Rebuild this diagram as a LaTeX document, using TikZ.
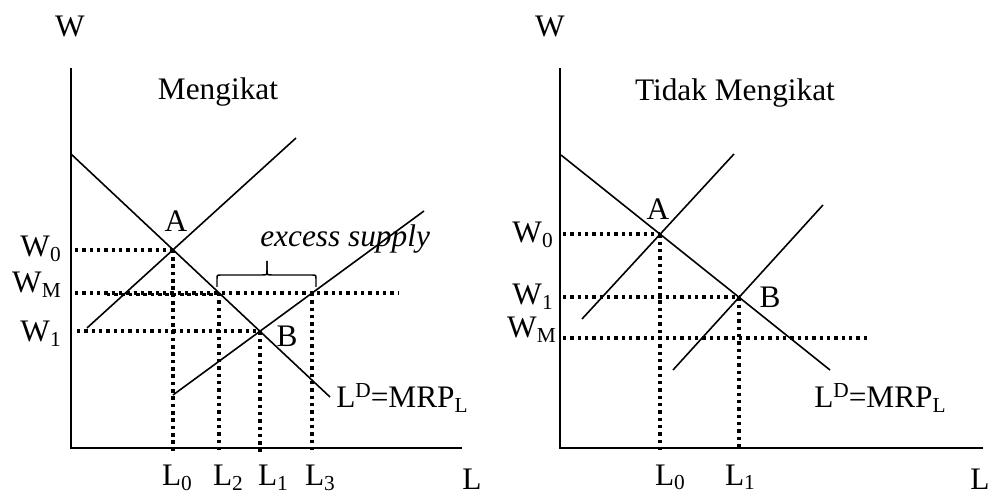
\documentclass[tikz,border=0pt]{standalone}
\usepackage{fontspec}
\setmainfont{Liberation Serif}
\usetikzlibrary{intersections}
\newcommand\mysub[1]{\raisebox{-3.5pt}{\fontsize{16}{16}\selectfont #1}}
\newcommand\mysup[1]{\raisebox{7.5pt}{\fontsize{16}{16}\selectfont #1}}
\begin{document}
\begin{tikzpicture}[x=0.75pt,y=-0.75pt,
  axis/.style={line width=1.5pt},
  curve/.style={line width=1.2pt},
  bracestyle/.style={line width=1.1pt},
  dotline/.style={line width=2.8pt,dash pattern=on 2.6pt off 2.9pt},
  lbl/.style={inner sep=0pt,font=\fontsize{23.5}{27}\selectfont}]
\useasboundingbox (0,0) rectangle (990,495);

% ---------------- left panel ----------------
\coordinate (O1) at (70.7,448);
\coordinate (Y1) at (70.7,68);
\coordinate (X1) at (462,448);
\draw[axis] (Y1) -- (O1) -- (X1);
\draw[curve,name path=D1] (71,154) -- (330,397);
\draw[curve,name path=S1] (87,328) -- (296,138);
\draw[curve,name path=S2] (173,395) -- (424,211);
\path[name path=M1] (60,293) -- (430,293);
\path[name intersections={of=D1 and S1,by=A1}];
\path[name intersections={of=D1 and S2,by=B1}];
\path[name intersections={of=D1 and M1,by=P2}];
\path[name intersections={of=S2 and M1,by=P3}];
\coordinate (lx1) at (75,0);
\coordinate (lx1b) at (77,0);
\coordinate (bt1) at (0,452);
\coordinate (WMa) at (75,293);
\coordinate (WMb) at (398,293);
\coordinate (WMc) at (103,294.5);
\coordinate (WMd) at (216,294.5);
\draw[dotline] (A1 -| lx1) -- (A1);
\draw[dotline] (A1) -- (A1 |- bt1);
\draw[dotline] (WMa) -- (WMb);
\draw[dotline,dash phase=2.7pt] (WMc) -- (WMd);
\draw[dotline] (B1 -| lx1b) -- (B1);
\draw[dotline] (B1) -- (B1 |- bt1);
\draw[dotline] (P2) -- (P2 |- bt1);
\draw[dotline] (P3) -- (P3 |- bt1);

% brace
\coordinate (br1) at (217,287);
\coordinate (br2) at (267,261);
\coordinate (br3) at (316,287);
\draw[bracestyle] (br1) -- (217,279) .. controls (217,275) .. (221,275) -- (262,275)
  .. controls (267,275) .. (267,270) -- (br2);
\draw[bracestyle] (br2) -- (267,270) .. controls (267,275) .. (272,275) -- (312,275)
  .. controls (316,275) .. (316,279) -- (br3);

\node[lbl,anchor=base] (tW1) at (70,37) {W};
\node[lbl,anchor=base] (tM1) at (218,100) {Mengikat};
\node[lbl,anchor=base east] (tW01) at (61,257) {W\mysub{0}};
\node[lbl,anchor=base east] (tWM1) at (61,293) {W\mysub{M}};
\node[lbl,anchor=base east] (tW11) at (61,342) {W\mysub{1}};
\node[lbl,anchor=base] (tA1) at (176,232) {A};
\node[lbl,anchor=base] (tB1) at (287,347) {B};
\node[lbl,anchor=base west] (tES) at (260,247) {\itshape excess supply};
\node[lbl,anchor=base west] (tLD1) at (336,408) {L\mysup{D}=MRP\mysub{L}};
\node[lbl,anchor=base] (tL01) at (177,486) {L\mysub{0}};
\node[lbl,anchor=base] (tL21) at (228,486) {L\mysub{2}};
\node[lbl,anchor=base] (tL11) at (273,486) {L\mysub{1}};
\node[lbl,anchor=base] (tL31) at (320,486) {L\mysub{3}};
\node[lbl,anchor=base west] (tLx1) at (462,489) {L};

% ---------------- right panel ----------------
\coordinate (O2) at (560,448);
\coordinate (Y2) at (560,68);
\coordinate (X2) at (983,448);
\draw[axis] (Y2) -- (O2) -- (X2);
\draw[curve,name path=D2] (561,155) -- (830,370);
\draw[curve,name path=S3] (582,319) -- (734,154);
\draw[curve,name path=S4] (673,370) -- (823,205);
\path[name intersections={of=D2 and S3,by=A2}];
\path[name intersections={of=D2 and S4,by=B2}];
\coordinate (lx2) at (563,0);
\coordinate (bt2) at (0,450);
\coordinate (WMe) at (563,338);
\coordinate (WMf) at (868,338);
\draw[dotline] (A2 -| lx2) -- (A2);
\draw[dotline] (A2) -- (A2 |- bt2);
\draw[dotline] (B2 -| lx2) -- (B2);
\draw[dotline] (B2) -- (B2 |- bt2);
\draw[dotline] (WMe) -- (WMf);

\node[lbl,anchor=base] (tW2) at (550,37) {W};
\node[lbl,anchor=base] (tM2) at (735,101) {Tidak Mengikat};
\node[lbl,anchor=base east] (tW02) at (553,243) {W\mysub{0}};
\node[lbl,anchor=base east] (tW12) at (553,305) {W\mysub{1}};
\node[lbl,anchor=base east] (tWM2) at (556,338) {W\mysub{M}};
\node[lbl,anchor=base] (tA2) at (658,220) {A};
\node[lbl,anchor=base] (tB2) at (770,308) {B};
\node[lbl,anchor=base west] (tLD2) at (814,408) {L\mysup{D}=MRP\mysub{L}};
\node[lbl,anchor=base] (tL02) at (670,485) {L\mysub{0}};
\node[lbl,anchor=base] (tL12) at (740,485) {L\mysub{1}};
\node[lbl,anchor=base west] (tLx2) at (970,489) {L};
\end{tikzpicture}
\end{document}
